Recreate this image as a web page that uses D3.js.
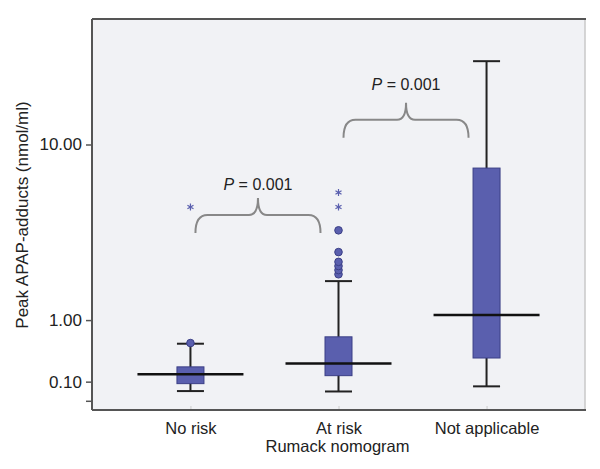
<!DOCTYPE html>
<html><head><meta charset="utf-8">
<script src="https://cdn.jsdelivr.net/npm/d3@7"></script>
<style>body{margin:0;background:#fff}svg{display:block}text{font-family:"Liberation Sans",Arial,sans-serif;fill:#222}</style>
</head><body><svg id="c" width="600" height="469"></svg>
<script>
const categories = ["No risk","At risk","Not applicable"];
const whiskerLow  = [0.004, 0.0, 0.051];
const q1          = [0.079, 0.166, 0.384];
const median      = [0.181, 0.311, 1.10];
const q3          = [0.27, 0.70, 7.75];
const whiskerHigh = [0.59, 1.92, 23.7];
const outliers = [[0.6],[2.12,2.25,2.38,2.52,2.87,3.78],[]];
const extremes = [[5.0],[5.0,5.9],[]];
const yTicks = [0.1, 1, 10];
const yTickLabels = ["0.10","1.00","10.00"];
const yMinorTicks = [-0.1];
const comparisons = [
  {from:0, to:1, level:3.66, label:"0.001"},
  {from:1, to:2, level:10.75, label:"0.001"}
];

const svg = d3.select("#c");
const L=92, R=585, T=19, B=410;
const x = d3.scalePoint().domain(categories).range([L,R]).padding(0.665);
const y = d3.scaleSymlog().constant(1).domain([-0.197, 36.2]).range([B,T]);

svg.append("rect").attr("x",L).attr("y",T).attr("width",R-L).attr("height",B-T).attr("fill","#f1f2f5");
svg.append("line").attr("x1",R).attr("x2",R).attr("y1",T).attr("y2",B).attr("stroke","#c8c8c8").attr("stroke-width",1.5);
svg.append("line").attr("x1",L).attr("x2",R+1).attr("y1",T).attr("y2",T).attr("stroke","#555").attr("stroke-width",2);

// y axis
const yAxis = d3.axisLeft(y).tickValues(yTicks).tickFormat((d,i)=>yTickLabels[i]).tickSize(6).tickPadding(4);
const gy = svg.append("g").attr("transform",`translate(${L},0)`).call(yAxis);
gy.select(".domain").attr("stroke","#555").attr("stroke-width",2).attr("d",`M0,${T}V${B}`);
gy.selectAll(".tick line").attr("stroke","#555").attr("stroke-width",1.5);
gy.selectAll(".tick text").style("font-size","17px").attr("fill","#222");
gy.selectAll(".minor").data(yMinorTicks).enter().append("line")
  .attr("x1",-6).attr("x2",0).attr("y1",d=>y(d)).attr("y2",d=>y(d)).attr("stroke","#555").attr("stroke-width",1.5);

// x axis
const xAxis = d3.axisBottom(x).tickSize(0).tickPadding(12);
const gx = svg.append("g").attr("transform",`translate(0,${B})`).call(xAxis);
gx.select(".domain").attr("stroke","#555").attr("stroke-width",2).attr("d",`M${L},0H${R+1}`);
gx.selectAll(".tick text").style("font-size","16.5px").attr("fill","#222");
gx.selectAll(".tick").append("line").attr("y1",-1).attr("y2",-4).attr("stroke","#ccc");

svg.append("text").attr("x",(L+R)/2-1).attr("y",452).attr("text-anchor","middle").style("font-size","16.5px").text("Rumack nomogram");
svg.append("text").attr("transform","translate(31,215) rotate(-90)").attr("text-anchor","middle").style("font-size","17px").text("Peak APAP-adducts (nmol/ml)");

const boxW=27, medW=106;
const fill="#5a5fae", edge="#3b3f86", dark="#222";
const g = svg.append("g");
categories.forEach((c,i)=>{
  const cx=x(c);
  g.append("line").attr("x1",cx).attr("x2",cx).attr("y1",y(whiskerLow[i])).attr("y2",y(whiskerHigh[i])).attr("stroke",dark).attr("stroke-width",2);
  [whiskerLow[i],whiskerHigh[i]].forEach(v=>g.append("line").attr("x1",cx-boxW/2).attr("x2",cx+boxW/2).attr("y1",y(v)).attr("y2",y(v)).attr("stroke",dark).attr("stroke-width",2));
  g.append("rect").attr("x",cx-boxW/2).attr("width",boxW).attr("y",y(q3[i])).attr("height",y(q1[i])-y(q3[i])).attr("fill",fill).attr("stroke",edge).attr("stroke-width",1);
  g.append("line").attr("x1",cx-medW/2).attr("x2",cx+medW/2).attr("y1",y(median[i])).attr("y2",y(median[i])).attr("stroke","#111").attr("stroke-width",2.5);
  outliers[i].forEach(v=>g.append("circle").attr("cx",cx).attr("cy",y(v)).attr("r",3.8).attr("fill",fill).attr("stroke",edge).attr("stroke-width",1));
  extremes[i].forEach(v=>g.append("path").attr("d",d3.symbol(d3.symbolAsterisk,34)()).attr("transform",`translate(${cx},${y(v)})`).attr("stroke","#5a5fae").attr("stroke-width",1.2).attr("fill","none"));
});

// comparison braces
const labelGap=[8,13];
comparisons.forEach((cmp,k)=>{
  const x0=x(categories[cmp.from])+5, x1=x(categories[cmp.to])-18, xm=(x0+x1)/2;
  const yb=y(cmp.level), yf=yb-18, yt=yf-17;
  const p=d3.path();
  p.moveTo(x0,yb); p.quadraticCurveTo(x0,yf,x0+12,yf); p.lineTo(xm-9,yf);
  p.quadraticCurveTo(xm,yf,xm,yt); p.quadraticCurveTo(xm,yf,xm+9,yf);
  p.lineTo(x1-12,yf); p.quadraticCurveTo(x1,yf,x1,yb);
  svg.append("path").attr("d",p.toString()).attr("fill","none").attr("stroke","#888").attr("stroke-width",2);
  const t=svg.append("text").attr("x",xm).attr("y",yt-labelGap[k]).attr("text-anchor","middle").style("font-size","16px");
  t.append("tspan").style("font-style","italic").text("P");
  t.append("tspan").text(" = "+cmp.label);
});
svg.selectAll("text").filter(function(){return this.getAttribute("transform")&&this.getAttribute("transform").indexOf("rotate")>=0;}).attr("transform","translate(28,215) rotate(-90)");
</script></body></html>
